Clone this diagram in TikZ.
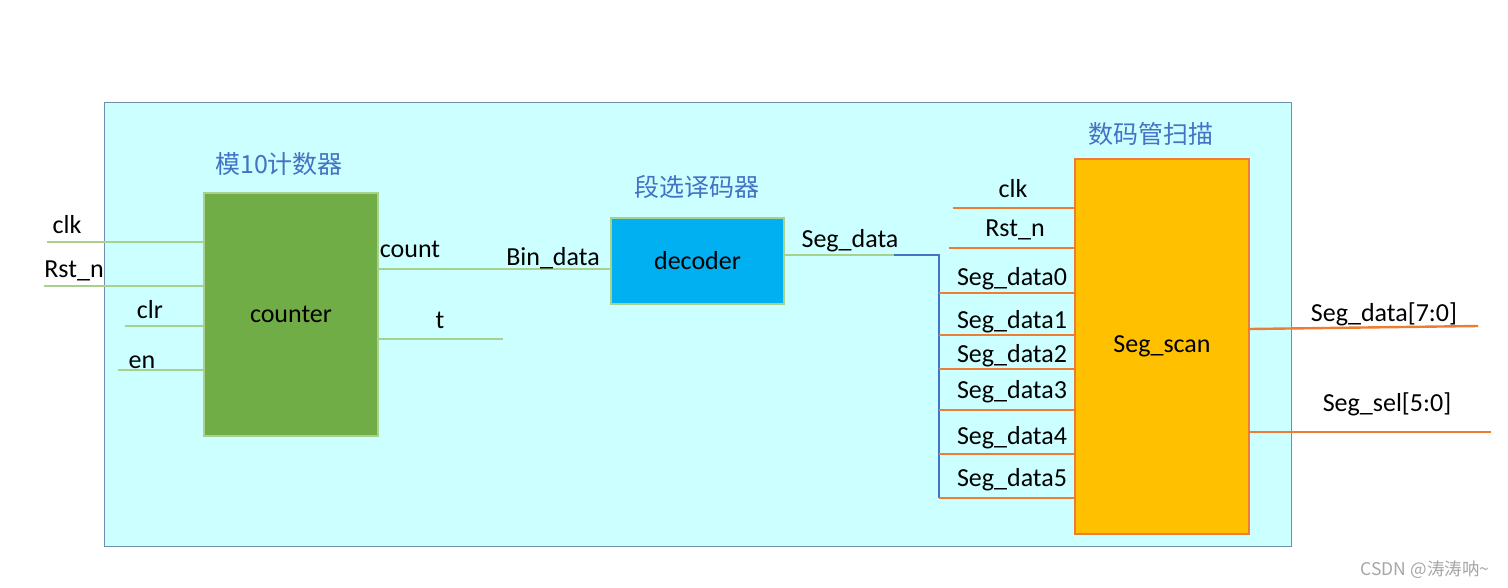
\documentclass[tikz,border=0pt]{standalone}
\usepackage{fontspec}
\setmainfont{Carlito}
\newfontfamily\cjk{Noto Sans CJK SC}
\definecolor{framefill}{HTML}{CCFFFF}
\definecolor{framec}{HTML}{6F8FB0}
\definecolor{cntfill}{HTML}{70AD47}
\definecolor{wgreen}{HTML}{A9D18E}
\definecolor{decfill}{HTML}{00B0F0}
\definecolor{scanfill}{HTML}{FFC000}
\definecolor{worange}{HTML}{ED7D31}
\definecolor{wblue}{HTML}{4472C4}
\definecolor{tblue}{HTML}{4472C4}
\definecolor{wmark}{HTML}{A6A6A6}
\begin{document}
\begin{tikzpicture}[x=1pt,y=-1pt,
  lbl/.style={anchor=base, inner sep=0pt, font=\fontsize{26}{30}\selectfont},
  ttl/.style={anchor=base, inner sep=0pt, font=\cjk\fontsize{25}{29}\selectfont, text=tblue},
  gwire/.style={draw=wgreen, line width=2.8pt},
  owire/.style={draw=worange, line width=2.4pt},
  bwire/.style={draw=wblue, line width=2.2pt},
  block/.style={inner sep=0pt, line width=1.8pt, font=\fontsize{26}{30}\selectfont}]
\useasboundingbox (0,0) rectangle (1508,587);

% frame
\node[draw=framec, fill=framefill, line width=1pt, inner sep=0pt,
      minimum width=1187pt, minimum height=444pt] (frame) at (697.5,324.5) {};

% blocks
\node[block, draw=wgreen, fill=cntfill, minimum width=174pt, minimum height=243pt] (cnt) at (291,314.5) {counter};
\node[block, draw=wgreen, fill=decfill, minimum width=173pt, minimum height=86pt] (dec) at (697.5,261) {decoder};
\node[block, draw=worange, fill=scanfill, minimum width=174pt, minimum height=375pt] (scan) at (1162,346.5) {Seg\_scan};

% titles
\node[ttl] (t1) at (279,173) {模10计数器};
\node[ttl] (t2) at (697,196) {段选译码器};
\node[ttl] (t3) at (1151,143) {数码管扫描};

% counter inputs
\coordinate (iclk) at (47,242);
\coordinate (irst) at (44,286);
\coordinate (iclr) at (125,326);
\coordinate (ien) at (118,370);
\draw[gwire] (iclk) -- (iclk -| cnt.west);
\draw[gwire] (irst) -- (irst -| cnt.west);
\draw[gwire] (iclr) -- (iclr -| cnt.west);
\draw[gwire] (ien) -- (ien -| cnt.west);
\node[lbl] (lclk) at (67,233) {clk};
\node[lbl] (lrst) at (74,277) {Rst\_n};
\node[lbl] (lclr) at (150,318) {clr};
\node[lbl] (len) at (142,368) {en};

% counter outputs
\coordinate (cpin) at (378,269);
\draw[gwire] (cpin -| cnt.east) -- (cpin -| dec.west);
\coordinate (tend) at (503,339);
\draw[gwire] (tend -| cnt.east) -- (tend);
\node[lbl] (lcount) at (410,257) {count};
\node[lbl] (lbin) at (553,265) {Bin\_data};
\node[lbl] (lt) at (440,328) {t};

% decoder output and bus
\coordinate (bj) at (894,255);
\coordinate (bt) at (939,255);
\coordinate (bb) at (939,498);
\draw[gwire] (bj -| dec.east) -- (bj);
\draw[bwire] (bj) -- (bt) -- (bb);
\node[lbl] (lseg) at (850,247) {Seg\_data};

% scan inputs
\coordinate (sclk) at (953,208);
\coordinate (srst) at (949,248);
\coordinate (s0) at (939,293);
\coordinate (s1) at (939,335);
\coordinate (s2) at (939,369);
\coordinate (s3) at (939,410);
\coordinate (s4) at (939,454);
\coordinate (s5) at (939,498);
\foreach \c in {sclk,srst,s0,s1,s2,s3,s4,s5}
  \draw[owire] (\c) -- (\c -| scan.west);
\node[lbl] (lsclk) at (1013,197) {clk};
\node[lbl] (lsrst) at (1015,236) {Rst\_n};
\node[lbl] (ls0) at (1012,285) {Seg\_data0};
\node[lbl] (ls1) at (1012,328) {Seg\_data1};
\node[lbl] (ls2) at (1012,362) {Seg\_data2};
\node[lbl] (ls3) at (1012,398) {Seg\_data3};
\node[lbl] (ls4) at (1012,444) {Seg\_data4};
\node[lbl] (ls5) at (1012,486) {Seg\_data5};

% scan outputs
\coordinate (odata) at (1478,326);
\coordinate (osel) at (1491,432);
\draw[owire] (scan.east |- 0,329) -- (odata);
\draw[owire] (osel -| scan.east) -- (osel);
\node[lbl] (lodata) at (1384,321) {Seg\_data[7:0]};
\node[lbl] (losel) at (1387,411) {Seg\_sel[5:0]};

% watermark
\node[anchor=base, inner sep=0pt, font=\cjk\fontsize{17.5}{20}\selectfont, text=wmark] (wm) at (1425,575) {CSDN @涛涛呐\textasciitilde};
\end{tikzpicture}
\end{document}
